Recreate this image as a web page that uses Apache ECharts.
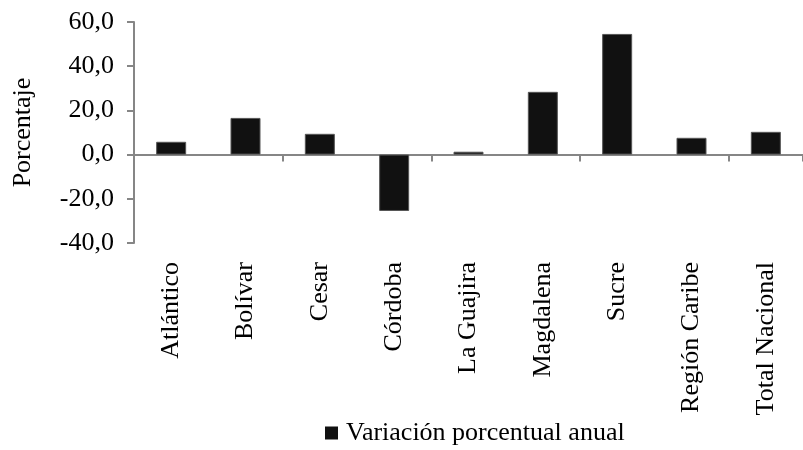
<!DOCTYPE html>
<html>
<head>
<meta charset="utf-8">
<script src="https://cdn.jsdelivr.net/npm/echarts@6/dist/echarts.min.js"></script>
<style>html,body{margin:0;padding:0;background:#fff;}#c{width:803px;height:450px;}</style>
</head>
<body>
<div id="c"></div>
<script>
const categories = ['Atlántico','Bolívar','Cesar','Córdoba','La Guajira','Magdalena','Sucre','Región Caribe','Total Nacional'];
const values = [5.8, 16.6, 9.4, -25.5, 1.3, 28.4, 54.6, 7.6, 10.3];
const seriesName = 'Variación porcentual anual';
const yTicks = {min: -40, max: 60, interval: 20};

const FONT = '"Liberation Serif", "Times New Roman", serif';
const chart = echarts.init(document.getElementById('c'), null, {renderer: 'canvas'});
chart.setOption({
  animation: false,
  backgroundColor: '#fff',
  grid: {left: 134, right: -6, top: 22, bottom: 207, containLabel: false},
  legend: {
    data: [seriesName],
    left: 320, top: 415,
    icon: 'rect', itemWidth: 13, itemHeight: 13,
    itemStyle: {borderWidth: 0, color: '#111111'},
    textStyle: {fontFamily: FONT, fontSize: 26, color: '#000', padding: [0,0,0,3]}
  },
  xAxis: [{
    type: 'category', data: categories,
    axisLine: {show: true, onZero: true, lineStyle: {color: '#868686', width: 2}},
    axisTick: {show: true, length: 7, lineStyle: {color: '#868686', width: 2}},
    axisLabel: {show: false},
    splitLine: {show: false}
  }, {
    type: 'category', data: categories, position: 'bottom',
    axisLine: {show: false, onZero: false},
    axisTick: {show: false},
    axisLabel: {show: true, rotate: 90, margin: 19, interval: 0,
      fontFamily: FONT, fontSize: 26, color: '#000'},
    splitLine: {show: false}
  }],
  yAxis: {
    type: 'value', min: yTicks.min, max: yTicks.max, interval: yTicks.interval,
    name: 'Porcentaje', nameLocation: 'middle', nameGap: 98, nameRotate: 90,
    nameTextStyle: {fontFamily: FONT, fontSize: 26, color: '#000'},
    axisLine: {show: true, lineStyle: {color: '#868686', width: 2}},
    axisTick: {show: true, length: 7, lineStyle: {color: '#868686', width: 2}},
    axisLabel: {margin: 20, fontFamily: FONT, fontSize: 26, color: '#000',
      formatter: v => v.toFixed(1).replace('.', ',')},
    splitLine: {show: false}
  },
  series: [{
    name: seriesName, type: 'bar', xAxisIndex: 0, data: values,
    barWidth: 30,
    itemStyle: {color: '#111111', borderColor: '#555', borderWidth: 1}
  }]
});
</script>
</body>
</html>
